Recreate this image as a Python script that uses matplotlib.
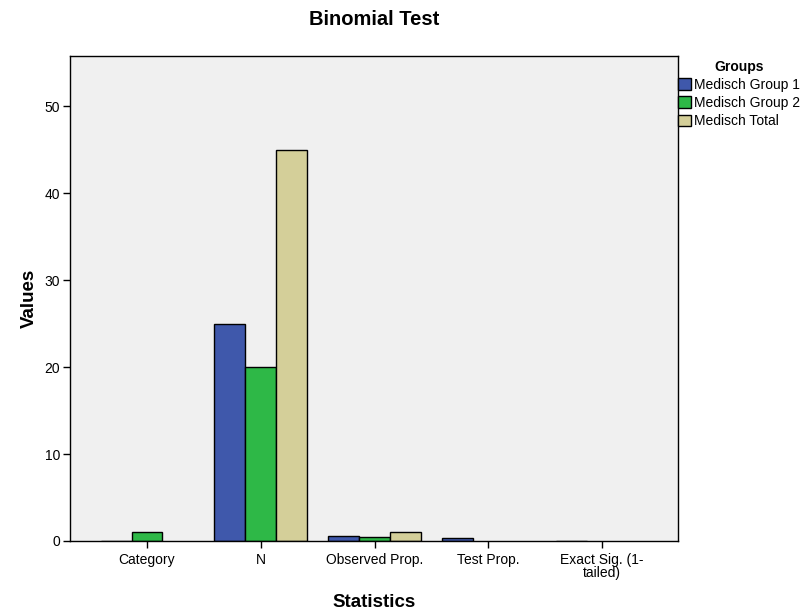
import numpy as np
import matplotlib
matplotlib.use("Agg")
import matplotlib.pyplot as plt
from matplotlib.patches import Patch

plt.rcParams['font.family'] = ['Liberation Sans', 'DejaVu Sans']

categories = ["Category", "N", "Observed Prop.", "Test Prop.", "Exact Sig. (1-\ntailed)"]
groups = ["Medisch Group 1", "Medisch Group 2", "Medisch Total"]
group1 = [0.0, 25, 0.56, 0.30, 0.02]
group2 = [1.0, 20, 0.44, np.nan, np.nan]
total = [np.nan, 45, 1.0, np.nan, np.nan]
colors = ["#3F58AB", "#2EB847", "#D4CF99"]

fig = plt.figure(figsize=(8.04, 6.15), dpi=100)
ax = fig.add_axes([70/804, 1-541/615, (678-70)/804, (541-56)/615])
ax.set_facecolor("#F0F0F0")

x = np.arange(len(categories))
w = 0.272
for i, (vals, c) in enumerate(zip([group1, group2, total], colors)):
    ax.bar(x + (i-1)*w, vals, width=w, color=c, edgecolor="black", linewidth=1.0)

ax.set_xlim(-0.677, 4.668)
ax.set_ylim(0, 55.75)
ax.set_xticks(x)
ax.set_xticklabels(categories, fontsize=10, linespacing=0.95)
ax.set_yticks([0, 10, 20, 30, 40, 50])
ax.tick_params(axis='y', labelsize=10, length=5, width=1, pad=2)
ax.tick_params(axis='x', length=5, width=1, pad=3.5)
for s in ax.spines.values():
    s.set_linewidth(1.0)

ax.set_title("Binomial Test", fontsize=14.5, fontweight='bold', pad=22.5)
ax.set_xlabel("Statistics", fontsize=13.5, fontweight='bold', labelpad=10)
ax.set_ylabel("Values", fontsize=13.5, fontweight='bold', labelpad=5)

handles = [Patch(facecolor=c, edgecolor="black", label=g) for g, c in zip(groups, colors)]
leg = fig.legend(handles=handles, title="Groups", loc="upper left",
                 bbox_to_anchor=(675/804, 1-57/615), frameon=False, fontsize=10,
                 title_fontproperties={'weight': 'bold', 'size': 10},
                 handlelength=0.95, handleheight=0.95, handletextpad=0.25,
                 labelspacing=0.3, borderpad=0.2, borderaxespad=0)

fig.savefig("out.png", dpi=100)
